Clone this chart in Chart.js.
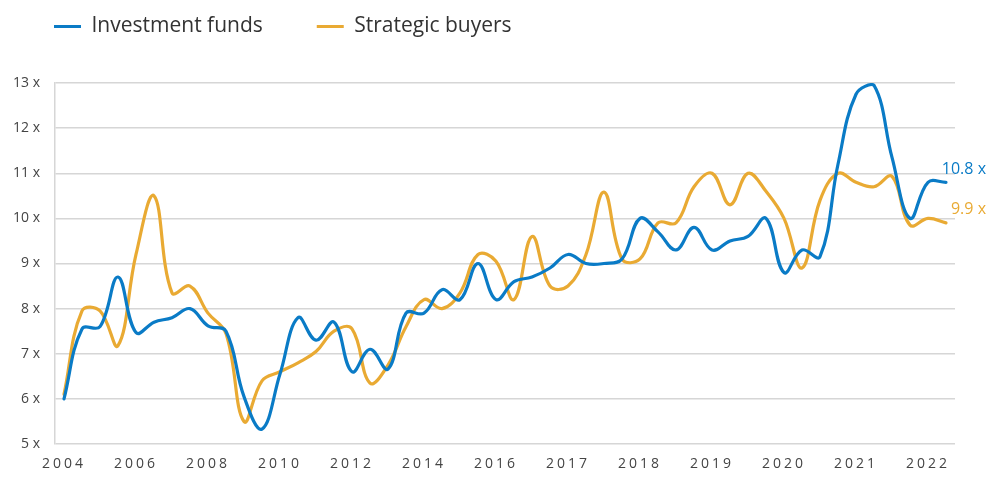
<!DOCTYPE html>
<html>
<head>
<meta charset="utf-8">
<script src="https://cdn.jsdelivr.net/npm/chart.js@4"></script>
<style>
  html, body { margin: 0; padding: 0; background: #ffffff; }
  #wrap { width: 1000px; height: 490px; position: relative; }
</style>
</head>
<body>
<div id="wrap"><canvas id="c"></canvas></div>
<script>
// Tick labels shown every 4th data point (semi-annual to 2016, quarterly after)
const yearLabels = ['2004','2006','2008','2010','2012','2014','2016','2017','2018','2019','2020','2021','2022'];
const seriesNames = ['Investment funds', 'Strategic buyers'];
const endLabels = ['10.8 x', '9.9 x'];

// Investment funds (EV/EBITDA multiple)
const investmentFunds = [
  6.0, 7.55, 7.6, 8.7, 7.47, 7.7, 7.8, 8.0, 7.62, 7.5,
  6.05, 5.33, 6.55, 7.8, 7.3, 7.7, 6.6, 7.1, 6.66, 7.9,
  7.9, 8.42, 8.2, 9.0, 8.2, 8.6, 8.7, 8.9, 9.2, 9.0,
  9.0, 9.1, 10.0, 9.7, 9.3, 9.8, 9.3, 9.5, 9.6, 10.0,
  8.8, 9.3, 9.15, 11.2, 12.75, 12.95, 11.35, 10.0, 10.8, 10.8
];
// Strategic buyers
const strategicBuyers = [
  6.1, 7.95, 7.95, 7.18, 9.2, 10.5, 8.35, 8.5, 7.9, 7.45,
  5.5, 6.4, 6.6, 6.8, 7.05, 7.5, 7.55, 6.35, 6.75, 7.6,
  8.2, 8.0, 8.35, 9.2, 9.05, 8.2, 9.6, 8.5, 8.5, 9.2,
  10.58, 9.1, 9.1, 9.9, 9.9, 10.7, 11.0, 10.3, 11.0, 10.6,
  10.0, 8.9, 10.4, 11.0, 10.8, 10.7, 10.93, 9.85, 10.0, 9.9
];
const yTicks = [5, 6, 7, 8, 9, 10, 11, 12, 13];

const BLUE = '#0a7bc6';
const ORANGE = '#e9aa33';
const FONT = '"Open Sans", "DejaVu Sans", sans-serif';

const categories = investmentFunds.map((_, i) => i);

// Fix legend block height so the plot area starts where the reference's does
const legendHeightPlugin = {
  id: 'legendHeight',
  beforeLayout(chart) {
    const lg = chart.legend;
    if (lg && !lg._fixedHeight) {
      const origFit = lg.fit;
      lg.fit = function () { origFit.call(this); this.height = 121; };
      lg._fixedHeight = true;
    }
  }
};

// Letter-spaced x-axis year labels
const spacedLabelsPlugin = {
  id: 'spacedLabels',
  beforeDraw(chart) {
    const sx = chart.scales.x;
    if (sx && !sx._spaced) {
      const orig = sx.drawLabels;
      sx.drawLabels = function (area) {
        const ctx = this.ctx;
        ctx.save();
        try { ctx.letterSpacing = '3px'; } catch (e) {}
        orig.call(this, area);
        ctx.restore();
      };
      sx._spaced = true;
    }
  }
};

const endLabelPlugin = {
  id: 'endLabels',
  afterDatasetsDraw(chart) {
    const ctx = chart.ctx;
    ctx.save();
    ctx.font = '16px ' + FONT;
    ctx.textAlign = 'right';
    ctx.textBaseline = 'middle';
    chart.data.datasets.forEach((ds, i) => {
      const meta = chart.getDatasetMeta(i);
      const pt = meta.data[meta.data.length - 1];
      ctx.fillStyle = ds.borderColor;
      ctx.fillText(endLabels[i], chart.width - 14, pt.y - 13);
    });
    ctx.restore();
  }
};

new Chart(document.getElementById('c'), {
  type: 'line',
  data: {
    labels: categories,
    datasets: [
      { label: seriesNames[0], data: investmentFunds, borderColor: BLUE, backgroundColor: BLUE },
      { label: seriesNames[1], data: strategicBuyers, borderColor: ORANGE, backgroundColor: ORANGE }
    ]
  },
  options: {
    responsive: true,
    maintainAspectRatio: false,
    animation: false,
    layout: { padding: { top: -38, right: 45, left: 0, bottom: 3 } },
    elements: {
      point: { radius: 0 },
      line: { borderWidth: 3.2, tension: 0.4, borderCapStyle: 'round' }
    },
    plugins: {
      legend: {
        position: 'top',
        align: 'start',
        labels: {
          boxWidth: 27,
          boxHeight: 3,
          padding: 54,
          color: '#333333',
          font: { family: FONT, size: 21 },
          generateLabels: (chart) =>
            Chart.defaults.plugins.legend.labels.generateLabels(chart).map(l => ({ ...l, lineWidth: 0 }))
        }
      },
      tooltip: { enabled: false }
    },
    scales: {
      x: {
        type: 'category',
        offset: true,
        grid: { display: false },
        border: { display: false },
        ticks: {
          autoSkip: false,
          maxRotation: 0,
          padding: 4,
          color: '#444444',
          font: { family: FONT, size: 14 },
          callback: (v, i) => (i % 4 === 0 ? yearLabels[i / 4] : null)
        },
        afterFit: (s) => { s.height = 43; }
      },
      y: {
        min: 5,
        max: 13,
        afterBuildTicks: (s) => { s.ticks = yTicks.map(v => ({ value: v })); },
        grid: { color: '#d6d6d6', lineWidth: 1.5, drawTicks: false },
        border: { display: true, color: '#d6d6d6', width: 1.5 },
        ticks: {
          padding: 15,
          color: '#444444',
          font: { family: FONT, size: 14 },
          callback: (v) => v + ' x'
        },
        afterFit: (s) => { s.width = 55; }
      }
    }
  },
  plugins: [legendHeightPlugin, spacedLabelsPlugin, endLabelPlugin]
});
</script>
</body>
</html>
